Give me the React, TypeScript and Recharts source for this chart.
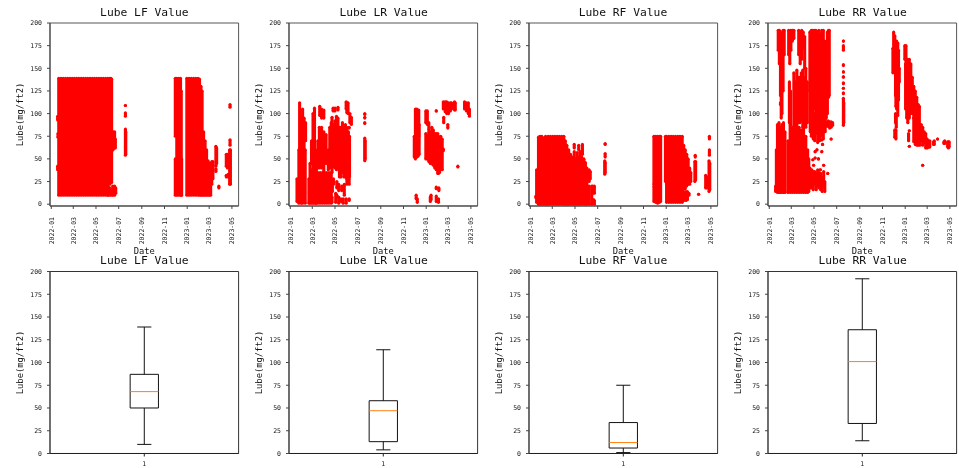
import React from 'react';
import { ScatterChart, Scatter, XAxis, YAxis, ReferenceArea } from 'recharts';

const titles = ['Lube LF Value', 'Lube LR Value', 'Lube RF Value', 'Lube RR Value'];
const plotLefts = [50, 289.3, 528.7, 768.3];
const plotWidth = 188.6;
const dateTicks = [0, 59, 120, 181, 243, 304, 365, 424, 485];
const dateLabels = ['2022-01', '2022-03', '2022-05', '2022-07', '2022-09', '2022-11', '2023-01', '2023-03', '2023-05'];
const valueTicks = [0, 25, 50, 75, 100, 125, 150, 175, 200];

// [day since 2022-01-01, lowest value, highest value] of each vertical run of points
const lfRuns = [
  [17,38,42],[17,93,97],[18,74,78],[20,10,139],[26,10,139],[32,10,139],[38,10,139],[44,10,139],[50,10,139],[56,10,139],[62,10,139],[68,10,139],[74,10,139],[80,10,139],[86,10,139],[92,10,139],[98,10,139],[104,10,139],[110,10,139],[116,10,139],[122,10,139],[128,10,139],[134,10,139],[140,10,139],[146,10,139],[152,10,139],[157,22,139],[160,24,139],[162,24,138],
  [152,10,20],[157,10,18],[162,10,16],[165,10,20],[170,10,20],[173,12,18],[166,60,80],[170,62,80],[172,62,72],
  [199,54,83],[200,55,80],[199,97,101],[199,109,109],
  [333,75,139],[333,10,50],[337,10,139],[342,10,139],[347,10,139],[349,10,125],[350,10,50],
  [364,10,139],[370,10,139],[376,10,139],[382,10,139],[388,10,139],[394,10,139],[398,10,138],[402,10,130],[405,10,125],[409,10,80],[413,10,70],[417,10,60],[421,10,48],[425,10,45],[428,10,30],[431,22,47],[434,28,47],
  [442,42,64],[444,45,62],[442,36,39],[450,18,20],[470,42,55],[470,30,32],[473,40,55],[475,30,33],[479,22,60],[481,22,60],[480,65,71],[480,107,110],
];
const lrRuns = [
  [18,3,28],[23,1,60],[25,60,112],[29,1,95],[33,1,105],[37,10,95],[40,1,60],[41,70,90],
  [50,1,28],[53,1,45],[57,1,38],[57,45,70],[61,1,100],[65,1,106],[68,1,60],[70,1,50],
  [74,1,35],[80,1,35],[86,1,35],[92,1,35],[98,1,35],[104,1,35],[110,1,35],
  [79,98,108],[84,95,105],[90,95,104],[74,40,70],[78,40,85],[84,40,85],[90,36,80],[96,45,77],[102,38,60],[106,40,85],[110,50,90],
  [112,35,96],[116,42,88],[120,40,92],[124,38,97],[128,40,95],[132,30,85],[136,30,85],[140,35,90],[144,30,82],[148,30,88],[152,28,85],[156,25,80],[159,30,75],
  [115,103,106],[120,103,106],[128,104,107],[150,105,113],[152,101,112],[155,100,112],[160,90,100],[164,88,96],[158,84,85],
  [112,2,8],[113,14,20],[116,22,28],[122,2,12],[125,8,10],[125,18,25],[130,1,8],[130,15,22],[136,3,6],[138,15,20],[142,1,6],[145,10,22],[150,1,6],[158,4,6],[152,22,28],[158,22,28],
  [200,48,73],[201,50,70],[200,99,100],[200,95,96],[200,89,90],
  [333,52,75],[336,50,105],[340,52,105],[343,53,100],[345,75,104],[346,55,88],[338,6,10],[341,2,6],
  [364,90,103],[368,88,103],[372,82,90],[364,50,78],[368,50,76],[372,47,80],[376,45,80],[380,45,85],[384,43,82],[388,40,78],[392,38,78],[396,34,78],[398,34,75],[401,35,72],[404,40,75],[408,38,72],[411,59,61],[392,103,103],
  [411,105,113],[416,102,113],[420,100,113],[425,100,112],[430,103,112],[433,105,112],[412,90,96],[423,84,88],
  [441,104,113],[443,104,112],[450,41,42],[468,105,113],[473,103,112],[478,100,112],[481,97,105],
  [376,3,8],[378,5,10],[392,17,19],[399,15,18],[392,3,9],[398,2,6],
];
const rfRuns = [
  [15,7,9],[17,2,38],[22,0,74],[26,0,75],[31,0,75],[36,0,73],[41,0,75],[45,0,60],[48,0,75],[54,0,75],[60,0,75],[66,0,75],[72,0,75],[78,0,75],[84,0,75],[90,0,75],
  [94,0,70],[98,0,65],[103,0,60],[108,0,55],[113,0,52],[118,0,58],[118,62,66],[122,0,50],[126,0,57],[130,0,52],[130,60,65],[134,0,58],[138,0,52],[140,55,66],[144,0,50],[148,0,46],[152,0,40],
  [158,0,20],[158,25,38],[161,28,36],[165,0,20],[170,1,5],[172,12,20],[168,12,20],[172,0,4],
  [200,33,48],[201,35,46],[201,52,56],[201,66,67],
  [332,22,75],[337,2,75],[342,1,75],[347,2,75],[350,3,75],[332,3,20],
  [363,25,75],[366,2,75],[372,2,75],[378,2,75],[384,2,75],[390,2,75],[396,2,75],[402,2,75],[408,2,75],
  [412,17,65],[416,17,60],[420,20,55],[424,22,50],[428,22,40],[431,25,35],[412,4,14],[418,4,14],[422,5,14],[426,10,12],
  [442,25,47],[444,27,47],[443,52,54],[452,11,11],[471,18,32],[474,18,30],[480,14,48],[482,16,45],[481,54,60],[481,72,75],
];
const rrRuns = [
  [17,14,20],[19,15,60],[22,13,88],[26,13,90],[30,13,85],[34,13,88],[38,13,90],[42,13,80],
  [24,170,192],[27,155,192],[30,120,190],[32,95,150],[34,100,180],[37,125,192],[40,165,192],[30,110,112],
  [52,165,192],[55,155,190],[58,170,192],[62,180,192],[66,183,192],[54,90,135],[57,87,125],
  [79,165,192],[83,155,190],[87,160,192],[91,172,190],[95,150,185],
  [66,85,145],[70,88,135],[74,85,148],[78,90,140],[82,90,140],[86,92,145],[90,85,148],[94,88,140],[98,85,150],[102,90,135],
  [50,13,70],[56,13,90],[62,13,85],[68,13,88],[74,13,85],[80,13,85],[86,13,82],[92,13,85],[98,13,75],[103,13,60],[106,14,50],[109,18,40],
  [109,125,190],[113,110,192],[117,100,192],[121,105,192],[125,90,192],[129,85,190],[133,85,192],[137,80,188],[141,85,192],[145,90,192],[149,90,180],[153,95,175],[156,100,190],[159,118,192],[161,120,192],
  [110,80,125],[113,75,110],[118,72,100],[122,70,100],[126,78,95],[130,68,85],[135,70,90],[140,75,88],[145,72,90],[150,80,100],[155,86,90],[158,86,92],[162,84,91],[166,85,91],[170,87,90],
  [114,18,38],[118,16,36],[122,22,36],[126,16,34],[130,20,38],[134,18,35],[138,16,34],[142,14,30],[146,20,36],[149,14,25],
  [141,71,71],[143,66,66],[166,72,72],[128,60,60],[141,58,58],[117,49,49],[123,51,51],[132,50,50],[119,43,43],[146,43,43],[157,34,34],[137,38,38],[123,58,58],
  [199,87,117],[200,90,112],[199,170,175],[199,180,180],[199,153,154],[199,146,146],[199,140,141],[199,133,134],[199,128,128],[199,122,123],
  [334,165,190],[337,155,186],[339,120,180],[332,145,172],[342,105,180],[345,98,178],[347,115,170],[349,135,150],[340,108,125],[339,90,100],[341,85,98],[337,74,82],[340,72,82],
  [364,160,175],[367,150,175],[366,105,155],[369,95,160],[372,90,160],[376,95,160],[380,100,155],[384,100,140],[388,95,130],[392,90,125],[396,75,118],[400,65,110],[403,68,108],
  [374,70,78],[376,64,64],[376,81,81],
  [388,69,95],[392,66,90],[396,65,88],[400,66,88],[404,65,85],[408,70,88],[412,65,85],[416,68,80],[420,62,78],[424,62,72],[428,63,70],[431,63,70],[443,66,70],[441,66,69],[452,72,72],[469,67,69],[471,67,70],[479,63,69],[481,62,69],[483,63,69],[412,43,43],
];
const runsByPanel = [lfRuns, lrRuns, rfRuns, rrRuns];

// [lower whisker, first quartile, median, third quartile, upper whisker]
const lfBox = [10, 50, 68, 87, 139];
const lrBox = [4, 13, 47, 58, 114];
const rfBox = [1, 6, 12, 34, 75];
const rrBox = [14, 33, 101, 136, 192];
const boxByPanel = [lfBox, lrBox, rfBox, rrBox];

const mono = '"DejaVu Sans Mono", monospace';
const tickStyle = { fontFamily: mono, fontSize: 6.5, fill: '#222' };
const labelStyle = { fontFamily: mono, fontSize: 8.8, fill: '#111', textAnchor: 'middle' as const };
const noDot = () => <g />;
const redDot = (p: any) => <circle cx={p.cx} cy={p.cy} r={1.55} fill="#ff0000" />;

const DateTick = (p: any) => {
  const i = dateTicks.indexOf(p.payload.value);
  return (
    <text x={p.x} y={p.y + 6} transform={`rotate(-90 ${p.x} ${p.y + 6})`} textAnchor="end" dy="0.35em"
      fontFamily={mono} fontSize={6.5} fill="#222">{dateLabels[i]}</text>
  );
};

function Title({ text, left, top }: { text: string; left: number; top: number }) {
  return (
    <div style={{ position: 'absolute', left: left - 30, width: plotWidth + 60, top, textAlign: 'center', fontFamily: mono, fontSize: 11.3, lineHeight: '14px', color: '#111' }}>{text}</div>
  );
}

function ScatterPanel({ i }: { i: number }) {
  const left = plotLefts[i];
  return (
    <div style={{ position: 'absolute', left: left - 50, top: 0 }}>
      <ScatterChart width={50 + plotWidth + 2} height={258} margin={{ top: 23, right: 2, bottom: 0, left: 0 }}>
        <XAxis type="number" dataKey="x" domain={[-3.5, 503]} ticks={dateTicks} allowDataOverflow height={52} interval={0}
          tick={DateTick} tickSize={3} stroke="#444"
          label={{ value: 'Date', position: 'insideBottom', offset: 4, style: labelStyle }} />
        <YAxis type="number" dataKey="y" domain={[-2, 200]} ticks={valueTicks} allowDataOverflow width={50} interval={0}
          tick={tickStyle} tickSize={3} tickMargin={5} stroke="#444"
          label={{ value: 'Lube(mg/ft2)', angle: -90, position: 'insideLeft', offset: 20, style: labelStyle }} />
        {runsByPanel[i].map((r, k) => (
          <Scatter key={k} isAnimationActive={false} data={[{ x: r[0], y: r[1] }, { x: r[0], y: r[2] }]} fill="#ff0000"
            shape={redDot} line={{ stroke: '#ff0000', strokeWidth: 3.1 }} lineType="joint" />
        ))}
        <ReferenceArea x1={-3.5} x2={503} y1={-2} y2={200} fill="none" stroke="#555" strokeWidth={1} ifOverflow="visible" />
      </ScatterChart>
    </div>
  );
}

function BoxPanel({ i }: { i: number }) {
  const left = plotLefts[i];
  const [lo, q1, med, q3, hi] = boxByPanel[i];
  const paths = [
    [[1, lo], [1, q1]],
    [[1, q3], [1, hi]],
    [[0.9625, lo], [1.0375, lo]],
    [[0.9625, hi], [1.0375, hi]],
    [[0.925, q1], [1.075, q1], [1.075, q3], [0.925, q3], [0.925, q1]],
  ];
  const line = (pts: number[][], color: string, k: string) => (
    <Scatter key={k} isAnimationActive={false} data={pts.map(([x, y]) => ({ x, y }))} shape={noDot}
      line={{ stroke: color, strokeWidth: 1 }} lineType="joint" />
  );
  return (
    <div style={{ position: 'absolute', left: left - 50, top: 250 }}>
      <ScatterChart width={50 + plotWidth + 2} height={218} margin={{ top: 21.5, right: 2, bottom: 0, left: 0 }}>
        <XAxis type="number" dataKey="x" domain={[0.5, 1.5]} ticks={[1]} allowDataOverflow height={14.5} interval={0}
          tick={tickStyle} tickSize={3} tickMargin={5} stroke="#222" />
        <YAxis type="number" dataKey="y" domain={[0, 200]} ticks={valueTicks} allowDataOverflow width={50} interval={0}
          tick={tickStyle} tickSize={3} tickMargin={5} stroke="#444"
          label={{ value: 'Lube(mg/ft2)', angle: -90, position: 'insideLeft', offset: 20, style: labelStyle }} />
        {paths.map((p, k) => line(p, '#111', 'p' + k))}
        {line([[0.925, med], [1.075, med]], '#ff7f0e', 'median')}
        <ReferenceArea x1={0.5} x2={1.5} y1={0} y2={200} fill="none" stroke="#333" strokeWidth={1} ifOverflow="visible" />
      </ScatterChart>
    </div>
  );
}

export default function App() {
  return (
    <div style={{ position: 'absolute', left: 0, top: 0, width: 959, height: 468, background: '#fff', overflow: 'hidden', filter: 'blur(0.35px)' }}>
      {titles.map((t, i) => <ScatterPanel key={t} i={i} />)}
      {titles.map((t, i) => <BoxPanel key={t} i={i} />)}
      {titles.map((t, i) => <Title key={t} text={t} left={plotLefts[i]} top={6} />)}
      {titles.map((t, i) => <Title key={t} text={t} left={plotLefts[i]} top={254} />)}
    </div>
  );
}
